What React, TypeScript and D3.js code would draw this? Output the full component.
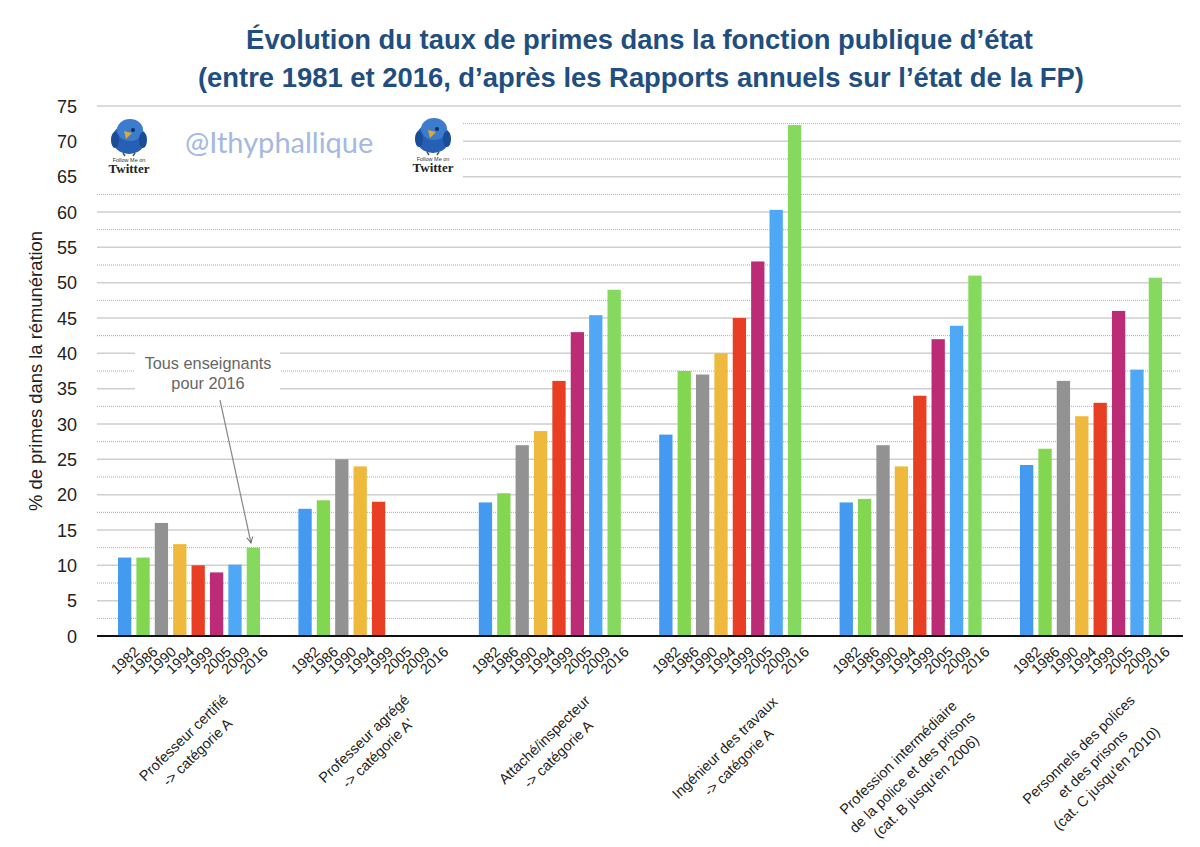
import * as d3 from "d3"

const years = ["1982", "1986", "1990", "1994", "1999", "2005", "2009", "2016"]
const yearColors = ["#4499f0", "#82d650", "#929292", "#eeb93c", "#e83e24", "#bb2b76", "#4fa8f5", "#86d95f"]

const groupLabels = [
  ["Professeur certifié", "-> catégorie A"],
  ["Professeur agrégé", "-> catégorie A'"],
  ["Attaché/inspecteur", "-> catégorie A"],
  ["Ingénieur des travaux", "-> catégorie A"],
  ["Profession intermédiaire", "de la police et des prisons", "(cat. B jusqu'en 2006)"],
  ["Personnels des polices", "et des prisons", "(cat. C jusqu'en 2010)"],
]

const certifie = [11.1, 11.1, 16, 13, 10, 9, 10.1, 12.5]
const agrege = [18, 19.2, 25, 24, 19, null, null, null]
const attache = [18.9, 20.2, 27, 29, 36.1, 43, 45.4, 49]
const ingenieur = [28.5, 37.5, 37, 40, 45, 53, 60.3, 72.3]
const intermediaire = [18.9, 19.4, 27, 24, 34, 42, 43.9, 51]
const personnels = [24.2, 26.5, 36.1, 31.1, 33, 46, 37.7, 50.7]
const series = [certifie, agrege, attache, ingenieur, intermediaire, personnels]

const width = 1200
const height = 847
const font = "'Liberation Sans', Arial, sans-serif"

const y = d3.scaleLinear().domain([0, 75]).range([636, 106])
const x0 = d3.scaleBand<number>().domain(d3.range(6)).range([97, 1179.4])
const x1 = d3.scaleBand<number>().domain(d3.range(8)).range([21, 163]).paddingInner(0.277).paddingOuter(0)

const majorTicks = d3.range(0, 76, 5)
const minorTicks = d3.range(2.5, 75, 5)

// vertical placement of each rotated group label
const groupLabelY = [745, 746, 747, 755, 772, 764]

function Bird({ x, yPos }: { x: number; yPos: number }) {
  return (
    <g transform={`translate(${x},${yPos})`}>
      <ellipse cx={0} cy={19} rx={17} ry={15} fill="#2560b4" />
      <ellipse cx={1} cy={10} rx={13} ry={11} fill="#3b7cce" />
      <ellipse cx={-14} cy={20} rx={4} ry={8} fill="#1b4c98" />
      <ellipse cx={14} cy={20} rx={4} ry={8} fill="#1b4c98" />
      <path d="M-5,11 L3,13 L-3,19 Z" fill="#e0a92e" />
      <circle cx={4} cy={10} r={2} fill="#10305f" />
      <path d="M-6,33 L-4,36 M6,33 L4,36" stroke="#555" strokeWidth={1.5} />
      <text x={0} y={42} textAnchor="middle" fontSize={5.5} fontFamily={font} fill="#333">Follow Me on</text>
      <text x={0} y={53} textAnchor="middle" fontSize={13} fontWeight="bold" fontFamily="'Liberation Serif', serif" fill="#222">Twitter</text>
    </g>
  )
}

export default function App() {
  return (
    <svg width={width} height={height} style={{ position: "absolute", left: 0, top: 0, background: "#fff" }}>
      <text textAnchor="middle" fontFamily={font} fontWeight="bold" fontSize={27.4} fill="#1f4e80">
        <tspan x={639.5} y={49}>Évolution du taux de primes dans la fonction publique d’état</tspan>
        <tspan x={641} y={87}>(entre 1981 et 2016, d’après les Rapports annuels sur l’état de la FP)</tspan>
      </text>

      {minorTicks.map((t) => (
        <line key={t} x1={97} x2={1181} y1={y(t)} y2={y(t)} stroke="#aaa" strokeWidth={1} strokeDasharray="1 1" />
      ))}
      {majorTicks.filter((t) => t > 0).map((t) => (
        <line key={t} x1={97} x2={1181} y1={y(t)} y2={y(t)} stroke="#cfcfcf" strokeWidth={1.5} />
      ))}

      {/* white patches behind the watermark and the annotation */}
      <rect x={97} y={y(75) + 2} width={366} height={y(65) - y(75) + 4} fill="#fff" />
      <rect x={135} y={y(40) - 2} width={145} height={y(34) - y(40)} fill="#fff" />

      {series.map((values, g) =>
        values.map((v, i) =>
          v == null ? null : (
            <rect
              key={`${g}-${i}`}
              x={x0(g)! + x1(i)!}
              y={y(v)}
              width={x1.bandwidth()}
              height={y(0) - y(v)}
              fill={yearColors[i]}
            />
          ),
        ),
      )}

      <line x1={97} x2={1183} y1={y(0)} y2={y(0)} stroke="#111" strokeWidth={2} />

      {majorTicks.map((t) => (
        <text key={t} x={77} y={y(t) + 6.5} textAnchor="end" fontFamily={font} fontSize={18} fill="#222">{t}</text>
      ))}

      <text
        transform={`translate(42,${y(37.5)}) rotate(-90)`}
        textAnchor="middle"
        fontFamily={font}
        fontSize={18.4}
        fill="#222"
      >
        % de primes dans la rémunération
      </text>

      {series.map((_, g) =>
        years.map((yr, i) => (
          <text
            key={`${g}-${yr}`}
            transform={`translate(${x0(g)! + x1(i)! + x1.bandwidth() + 9},${y(0) + 17}) rotate(-43)`}
            textAnchor="end"
            fontFamily={font}
            fontSize={14.5}
            fill="#222"
          >
            {yr}
          </text>
        )),
      )}

      {groupLabels.map((lines, g) => (
        <text
          key={g}
          transform={`translate(${x0(g)! + 93.5},${groupLabelY[g]}) rotate(-44)`}
          textAnchor="middle"
          fontFamily={font}
          fontSize={14.5}
          fill="#222"
        >
          {lines.map((line, i) => (
            <tspan key={i} x={0} y={(i - (lines.length - 1) / 2) * 20 + 5}>{line}</tspan>
          ))}
        </text>
      ))}

      <text textAnchor="middle" fontFamily={font} fontSize={16.3} fill="#666">
        <tspan x={208} y={369}>Tous enseignants</tspan>
        <tspan x={208} y={389}>pour 2016</tspan>
      </text>
      <defs>
        <marker id="arrow" markerWidth={8} markerHeight={8} refX={7} refY={4} orient="auto" markerUnits="userSpaceOnUse">
          <path d="M1,1 L7,4 L1,7" fill="none" stroke="#666" strokeWidth={1} />
        </marker>
      </defs>
      <line x1={220} y1={400} x2={251} y2={543} stroke="#888" strokeWidth={1.2} markerEnd="url(#arrow)" />

      <Bird x={129} yPos={120} />
      <Bird x={433} yPos={119} />
      <text x={185} y={153} fontFamily="Lato, sans-serif" fontSize={29} fill="#a5b8e2">@Ithyphallique</text>
    </svg>
  )
}
